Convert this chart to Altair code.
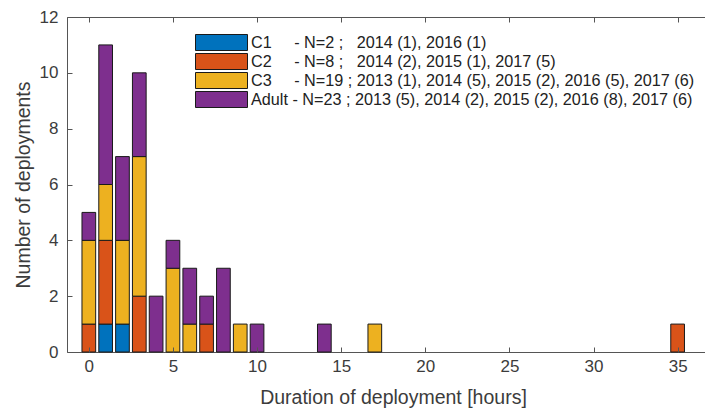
import altair as alt
import pandas as pd

# ---- data ----
durations = [0, 0, 0,
             1, 1, 1, 1,
             2, 2, 2,
             3, 3, 3,
             4,
             5, 5,
             6, 6,
             7, 7,
             8, 9, 10, 14, 17, 35]
stages = ["C2", "C3", "Adult",
          "C1", "C2", "C3", "Adult",
          "C1", "C3", "Adult",
          "C2", "C3", "Adult",
          "Adult",
          "C3", "Adult",
          "C3", "Adult",
          "C2", "Adult",
          "Adult", "C3", "Adult", "Adult", "C3", "C2"]
counts = [1, 3, 1,
          1, 3, 2, 5,
          1, 3, 3,
          2, 5, 3,
          2,
          3, 1,
          1, 2,
          1, 1,
          3, 1, 1, 1, 1, 1]

stage_order = ["C1", "C2", "C3", "Adult"]
stage_colors = ["#0072BD", "#D95319", "#EDB120", "#7E2F8E"]
NB = "\u00a0"
legend_labels = [
    "C1" + NB * 5 + "- N=2 ;" + NB * 3 + "2014 (1), 2016 (1)",
    "C2" + NB * 5 + "- N=8 ;" + NB * 3 + "2014 (2), 2015 (1), 2017 (5)",
    "C3" + NB * 5 + "- N=19 ; 2013 (1), 2014 (5), 2015 (2), 2016 (5), 2017 (6)",
    "Adult - N=23 ; 2013 (5), 2014 (2), 2015 (2), 2016 (8), 2017 (6)",
]
x_ticks = [0, 5, 10, 15, 20, 25, 30, 35]
y_ticks = [0, 2, 4, 6, 8, 10, 12]

df = pd.DataFrame({"duration": durations, "stage": stages, "count": counts})
df["order"] = df["stage"].map({s: i for i, s in enumerate(stage_order)})

label_map = "{" + ",".join(f"'{s}':'{l}'" for s, l in zip(stage_order, legend_labels)) + "}"

FONT = "Liberation Sans"
AX = "#3c3c3c"
LINE = "#555555"

xscale = alt.Scale(domain=[-1, 36.33], nice=False, zero=False)
yscale = alt.Scale(domain=[0, 12], nice=False)

base = alt.Chart(df)

bars = base.mark_bar(size=13.7, stroke="#1a1a1a", strokeWidth=1).encode(
    x=alt.X("duration:Q", scale=xscale,
            axis=alt.Axis(values=x_ticks, orient="bottom", ticks=False, grid=False,
                          domainColor=LINE, labelColor=AX, labelFont=FONT, labelFontSize=17,
                          labelPadding=6, title="Duration of deployment [hours]",
                          titleFont=FONT, titleFontSize=19.5, titleFontWeight="normal",
                          titleColor=AX, titlePadding=14, titleX=326)),
    y=alt.Y("sum(count):Q", scale=yscale, stack="zero",
            axis=alt.Axis(values=y_ticks, orient="left", ticks=False, grid=False,
                          domainColor=LINE, labelColor=AX, labelFont=FONT, labelFontSize=17,
                          labelPadding=9, title="Number of deployments",
                          titleFont=FONT, titleFontSize=19.5, titleFontWeight="normal",
                          titleColor=AX, titlePadding=6)),
    color=alt.Color("stage:N",
                    scale=alt.Scale(domain=stage_order, range=stage_colors),
                    legend=alt.Legend(orient="none", legendX=146, legendY=17, title=None,
                                      symbolType="M-3.25,-1L3.25,-1L3.25,1L-3.25,1Z",
                                      symbolSize=256, symbolStrokeColor="#1a1a1a",
                                      symbolStrokeWidth=1, symbolOpacity=1,
                                      labelOffset=21, labelFont=FONT, labelFontSize=16.2,
                                      labelColor="#222222", rowPadding=-2.7, padding=0,
                                      labelLimit=600, labelExpr=label_map + "[datum.label]")),
    order=alt.Order("order:Q", sort="ascending"),
)

inv = base.mark_bar(size=13.7, opacity=0)

ticks_bl = inv.encode(
    x=alt.X("duration:Q", scale=xscale,
            axis=alt.Axis(values=x_ticks, orient="bottom", offset=-5, tickSize=5,
                          domain=False, labels=False, title=None, grid=False,
                          tickColor=LINE, zindex=1)),
    y=alt.Y("sum(count):Q", scale=yscale,
            axis=alt.Axis(values=y_ticks, orient="left", offset=-5, tickSize=5,
                          domain=False, labels=False, title=None, grid=False,
                          tickColor=LINE, zindex=1)),
)

top_line = inv.encode(
    x=alt.X("duration:Q", scale=xscale,
            axis=alt.Axis(orient="top", domain=True, domainColor=LINE, ticks=False,
                          labels=False, title=None, grid=False)),
    y=alt.Y("sum(count):Q", scale=yscale, axis=None),
)

top_ticks = inv.encode(
    x=alt.X("duration:Q", scale=xscale,
            axis=alt.Axis(values=x_ticks, orient="top", offset=-5, tickSize=5,
                          domain=False, labels=False, title=None, grid=False,
                          tickColor=LINE, zindex=1)),
    y=alt.Y("sum(count):Q", scale=yscale, axis=None),
)

chart = alt.layer(bars, ticks_bl, top_line, top_ticks).resolve_axis(
    x="independent", y="independent"
).properties(
    width=638, height=335,
    padding={"left": 59, "top": 9, "right": 0, "bottom": 57},
    autosize=alt.AutoSizeParams(type="none"),
).configure_view(stroke=None).configure(background="white")

chart.save("out.html", embed_options={"renderer": "svg", "actions": False})
